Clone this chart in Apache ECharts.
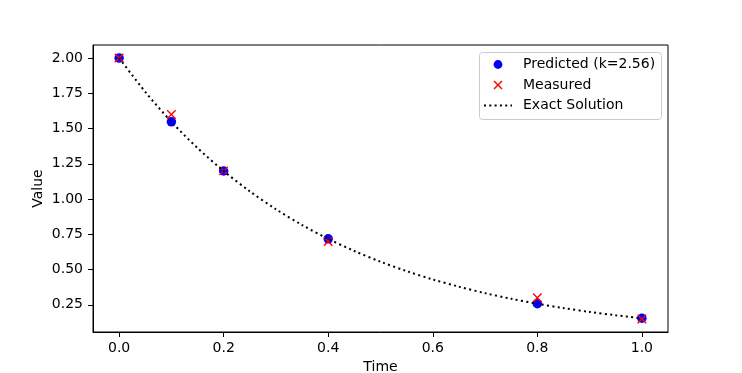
<!DOCTYPE html>
<html><head><meta charset="utf-8">
<script src="https://cdn.jsdelivr.net/npm/echarts@6/dist/echarts.min.js"></script>
<style>html,body{margin:0;padding:0;background:#fff}#c{width:742px;height:373px}</style>
</head><body><div id="c"></div>
<script>
var timePoints = [0.0, 0.1, 0.2, 0.4, 0.8, 1.0];
var predicted = [2.0, 1.548, 1.199, 0.718, 0.258, 0.155];
var measured = [2.0, 1.6, 1.2, 0.7, 0.3, 0.15];
var exactTime = [0,0.05,0.1,0.15,0.2,0.25,0.3,0.35,0.4,0.45,0.5,0.55,0.6,0.65,0.7,0.75,0.8,0.85,0.9,0.95,1.0];
var exactValue = [2.000,1.760,1.548,1.362,1.199,1.055,0.928,0.816,0.718,0.632,0.556,0.489,0.430,0.379,0.333,0.293,0.258,0.227,0.200,0.176,0.155];
var xTicks = [0, 0.2, 0.4, 0.6, 0.8, 1.0];
var yTicks = [0.25, 0.5, 0.75, 1.0, 1.25, 1.5, 1.75, 2.0];
var legendLabels = ['Predicted (k=2.56)', 'Measured', 'Exact Solution'];

function pairs(xs, ys){ return xs.map(function(x,i){return [x, ys[i]];}); }
var font = 'DejaVu Sans';
var FS = 14;
var chart = echarts.init(document.getElementById('c'), null, {renderer:'canvas'});

var lx = 479, ly = 52, rowY = [64.5, 85, 105.5], mx = 498, tx = 523;
var legendGraphics = [
  {type:'rect', shape:{x:lx+0.5, y:ly+0.5, width:182, height:67, r:3},
   style:{fill:'rgba(255,255,255,0.8)', stroke:'#cccccc', lineWidth:1}, z:100},
  {type:'circle', shape:{cx:mx, cy:rowY[0], r:4.4}, style:{fill:'#0000ff'}, z:101},
  {type:'polyline', shape:{points:[[mx-4,rowY[1]-4],[mx+4,rowY[1]+4]]}, style:{stroke:'#ff0000', lineWidth:1.4}, z:101},
  {type:'polyline', shape:{points:[[mx+4,rowY[1]-4],[mx-4,rowY[1]+4]]}, style:{stroke:'#ff0000', lineWidth:1.4}, z:101},
  {type:'line', shape:{x1:484, y1:rowY[2], x2:512, y2:rowY[2]}, style:{stroke:'#000', lineWidth:2, lineDash:[2,3.3]}, z:101}
];
legendLabels.forEach(function(t, i){
  legendGraphics.push({type:'text', x:tx, y:rowY[i], z:101,
    style:{text:t, fill:'#000', font: FS + 'px "' + font + '"', textVerticalAlign:'middle', verticalAlign:'middle'}});
});

chart.setOption({
  animation: false,
  backgroundColor: '#fff',
  textStyle: {fontFamily: font},
  grid: {left: 93, right: 74, top: 45, bottom: 41, show: true, borderColor: '#000', borderWidth: 1,
    backgroundColor: 'transparent', containLabel: false, outerBoundsMode: 'none'},
  xAxis: {
    type: 'value', min: -0.05, max: 1.05,
    name: 'Time', nameLocation: 'middle', nameGap: 28, nameMoveOverlap: false,
    nameTextStyle: {fontFamily: font, fontSize: FS, color: '#000'},
    splitLine: {show: false},
    axisLine: {show: true, onZero: false, lineStyle: {color: '#000'}},
    axisTick: {show: true, length: 5, customValues: xTicks, lineStyle: {color: '#000'}},
    axisLabel: {customValues: xTicks, fontFamily: font, fontSize: FS, color: '#000', margin: 9,
      formatter: function(v){ return v.toFixed(1); }}
  },
  yAxis: {
    type: 'value', min: 0.0575, max: 2.0925,
    name: 'Value', nameLocation: 'middle', nameGap: 48, nameRotate: 90, nameMoveOverlap: false,
    nameTextStyle: {fontFamily: font, fontSize: FS, color: '#000'},
    splitLine: {show: false},
    axisLine: {show: true, onZero: false, lineStyle: {color: '#000'}},
    axisTick: {show: true, length: 5, customValues: yTicks, lineStyle: {color: '#000'}},
    axisLabel: {customValues: yTicks, fontFamily: font, fontSize: FS, color: '#000', margin: 10,
      formatter: function(v){ return v.toFixed(2); }}
  },
  graphic: legendGraphics,
  series: [
    {
      name: legendLabels[0], type: 'scatter', symbol: 'circle', symbolSize: 9.5,
      itemStyle: {color: '#0000ff', opacity: 1}, z: 2,
      data: pairs(timePoints, predicted)
    },
    {
      name: legendLabels[1], type: 'scatter', symbol: 'path://M0,0L10,10M10,0L0,10', symbolSize: 8.5,
      itemStyle: {color: 'rgba(0,0,0,0)', borderColor: '#ff0000', borderWidth: 1.4, opacity: 1}, z: 3,
      data: pairs(timePoints, measured)
    },
    {
      name: legendLabels[2], type: 'line', symbol: 'none', smooth: 0.3,
      lineStyle: {color: '#000', width: 2, type: [2, 3.3]},
      itemStyle: {color: '#000'}, z: 4,
      data: pairs(exactTime, exactValue)
    }
  ]
});
</script></body></html>
